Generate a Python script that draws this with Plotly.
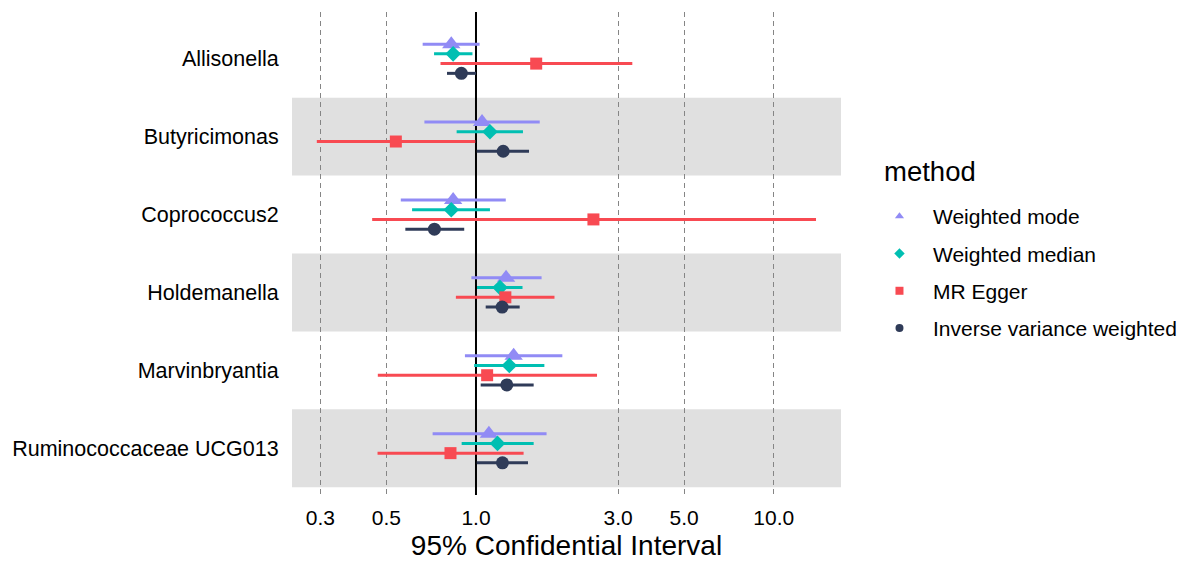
import plotly.graph_objects as go

categories = ["Allisonella", "Butyricimonas", "Coprococcus2", "Holdemanella",
              "Marvinbryantia", "Ruminococcaceae UCG013"]

methods = ["Weighted mode", "Weighted median", "MR Egger", "Inverse variance weighted"]

wmode_est = [0.826, 1.048, 0.838, 1.262, 1.338, 1.105]
wmode_lo = [0.662, 0.671, 0.559, 0.965, 0.918, 0.715]
wmode_hi = [1.028, 1.637, 1.259, 1.661, 1.950, 1.726]

wmed_est = [0.838, 1.114, 0.826, 1.204, 1.294, 1.181]
wmed_lo = [0.723, 0.861, 0.610, 1.008, 0.986, 0.895]
wmed_hi = [0.973, 1.438, 1.114, 1.433, 1.697, 1.562]

egger_est = [1.593, 0.538, 2.480, 1.255, 1.090, 0.821]
egger_lo = [0.760, 0.292, 0.448, 0.856, 0.468, 0.467]
egger_hi = [3.350, 0.995, 13.87, 1.835, 2.550, 1.445]

ivw_est = [0.893, 1.234, 0.725, 1.224, 1.269, 1.227]
ivw_lo = [0.799, 1.006, 0.579, 1.078, 1.037, 1.006]
ivw_hi = [1.000, 1.507, 0.913, 1.402, 1.562, 1.495]

tick_vals = [0.3, 0.5, 1.0, 3.0, 5.0, 10.0]
tick_text = ["0.3", "0.5", "1.0", "3.0", "5.0", "10.0"]
ref_value = 1.0

colors = ["#918BF5", "#00BFB2", "#F84A52", "#2F3B58"]
symbols = ["triangle-up", "diamond", "square", "circle"]
sizes = [16, 12, 12, 13]
dodge = [0.1875, 0.0625, -0.0625, -0.1875]

series = [
    (wmode_est, wmode_lo, wmode_hi),
    (wmed_est, wmed_lo, wmed_hi),
    (egger_est, egger_lo, egger_hi),
    (ivw_est, ivw_lo, ivw_hi),
]

n = len(categories)
ypos = [n - 1 - i for i in range(n)]  # first category at top
y_lo, y_hi = -0.6, n - 1 + 0.6

fig = go.Figure()

# reference line at 1
fig.add_trace(go.Scatter(x=[ref_value, ref_value], y=[y_lo, y_hi], mode="lines",
                         line=dict(color="black", width=2), showlegend=False,
                         hoverinfo="skip"))

for k, (est, lo, hi) in enumerate(series):
    yy = [p + dodge[k] for p in ypos]
    fig.add_trace(go.Scatter(
        x=est, y=yy, mode="markers", name=methods[k], showlegend=False,
        marker=dict(color=colors[k], symbol=symbols[k], size=sizes[k]),
        error_x=dict(type="data", symmetric=False,
                     array=[h - e for h, e in zip(hi, est)],
                     arrayminus=[e - l for e, l in zip(est, lo)],
                     color=colors[k], thickness=3, width=0),
    ))

# legend entries (small symbols)
for k in range(4):
    fig.add_trace(go.Scatter(
        x=[None], y=[None], mode="markers", name=methods[k], legendgroup=methods[k],
        marker=dict(color=colors[k], symbol=symbols[k], size=8)))

# alternating grey bands
shapes = []
for i, p in enumerate(ypos):
    if i % 2 == 1:
        shapes.append(dict(type="rect", xref="paper", yref="y", x0=0, x1=1,
                           y0=p - 0.5, y1=p + 0.5, fillcolor="#E0E0E0",
                           line=dict(width=0), layer="below"))

fig.update_layout(
    width=1189, height=561,
    margin=dict(l=292, r=348, t=12, b=66, autoexpand=False),
    plot_bgcolor="white", paper_bgcolor="white",
    font=dict(family="Liberation Sans, Arial, sans-serif", color="black", size=21),
    shapes=shapes,
    showlegend=True,
    annotations=[dict(text="method", xref="paper", yref="paper", x=1.0747, y=0.6708,
                      xanchor="left", yanchor="middle", showarrow=False,
                      font=dict(size=27.5))],
    legend=dict(
        x=1.0455, xanchor="left", y=0.619, yanchor="top",
        font=dict(size=21), itemwidth=57, tracegroupgap=7,
        bgcolor="rgba(0,0,0,0)",
    ),
    xaxis=dict(
        type="log", range=[-0.618, 1.226], automargin=False,
        tickvals=tick_vals, ticktext=tick_text,
        showgrid=True, gridcolor="#858585", gridwidth=1.2, griddash="5px,4px",
        ticks="outside", ticklen=4, tickcolor="rgba(0,0,0,0)",
        showline=False, zeroline=False,
        tickfont=dict(size=21, color="black"),
        title=dict(text="95% Confidential Interval", font=dict(size=28), standoff=13),
    ),
    yaxis=dict(
        range=[y_lo, y_hi], tickvals=ypos, ticktext=categories, automargin=False,
        showgrid=False, zeroline=False, showline=False,
        ticks="outside", ticklen=8, tickcolor="rgba(0,0,0,0)",
        tickfont=dict(size=21.5, color="black"),
    ),
)

fig.write_html("out.html", config={"displayModeBar": False},
               post_script="document.body.style.margin='0';document.body.style.overflow='hidden';")
